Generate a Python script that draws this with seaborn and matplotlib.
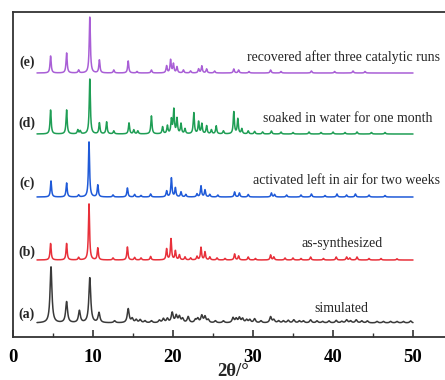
import numpy as np
import pandas as pd
import seaborn as sns
import matplotlib
matplotlib.use("Agg")
import matplotlib.pyplot as plt
from matplotlib.ticker import MultipleLocator

# Reflection lists (2theta in degrees, relative height) for each pattern
sim_peaks = [(4.75, 56), (6.7, 21), (8.3, 12), (9.6, 45), (10.75, 10), (12.7, 2),
             (14.4, 14), (14.9, 4), (15.4, 3), (15.9, 3), (16.5, 2), (17.3, 2),
             (18.3, 2.5), (18.8, 4), (19.3, 4), (19.9, 10), (20.4, 7), (20.8, 6),
             (21.2, 4), (21.9, 6), (22.8, 3), (23.1, 4), (23.6, 7), (24.0, 6),
             (24.4, 3), (25.3, 2), (26.3, 2), (27.5, 5), (27.9, 4), (28.3, 5),
             (28.7, 4), (29.2, 3), (29.6, 3), (30.2, 4), (31.0, 2), (32.2, 6),
             (32.6, 3), (33.2, 2), (33.8, 2), (34.4, 2.5), (35.1, 3), (35.8, 2),
             (36.3, 2), (37.2, 3), (38.0, 2), (38.7, 1.5), (39.5, 2), (40.4, 2.5),
             (41.1, 1.5), (41.7, 3), (42.2, 2), (42.9, 3), (43.6, 2), (44.3, 2),
             (45.5, 1.5), (46.3, 1.5), (47.2, 1.5), (48.0, 1.5), (48.8, 1.5), (49.7, 2)]

synth_peaks = [(4.7, 16.5), (6.7, 16.5), (8.2, 2.5), (9.5, 56), (10.6, 12), (12.5, 2),
               (14.3, 13), (15.2, 2.5), (16.0, 2), (17.2, 3.5), (19.2, 11), (19.75, 21),
               (20.3, 9), (20.8, 5), (21.5, 3), (22.2, 2), (23.0, 3.5), (23.5, 12.5),
               (24.0, 8), (24.6, 3), (25.5, 2), (26.5, 1.5), (27.7, 6), (28.2, 4),
               (29.4, 3), (30.3, 1.5), (32.2, 5), (32.6, 3), (34.0, 2), (35.0, 2),
               (36.0, 1.5), (37.2, 3), (38.8, 1.5), (40.4, 3), (41.7, 3), (42.1, 2),
               (43.0, 3), (44.5, 1.5), (46.0, 1.5), (48.0, 1.2)]

air_peaks = [(4.75, 16), (6.7, 14), (8.2, 2), (9.5, 55), (10.6, 12), (12.5, 2),
             (14.3, 9), (15.2, 2.5), (16.0, 1.5), (17.2, 3), (19.2, 6), (19.8, 19),
             (20.3, 9), (21.0, 5), (21.6, 2.5), (23.0, 3), (23.5, 11), (24.0, 7),
             (24.6, 2.5), (25.6, 2), (27.7, 5), (28.3, 4), (29.4, 2.5), (32.3, 4),
             (32.7, 2.5), (34.2, 2), (36.0, 2), (37.3, 3), (39.0, 1.5), (40.5, 3),
             (41.7, 2), (42.8, 3), (44.5, 2), (46.5, 1.5)]

water_peaks = [(4.7, 24), (6.7, 24), (8.1, 4), (8.4, 3), (9.6, 55), (10.8, 11),
               (11.7, 12), (12.6, 3), (14.5, 11), (15.1, 4), (15.6, 3), (17.3, 18),
               (18.7, 7), (19.3, 8), (19.8, 14), (20.1, 24), (20.5, 15), (21.0, 10),
               (21.5, 5), (22.6, 21), (23.2, 12), (23.6, 10), (24.2, 8), (24.8, 4),
               (25.4, 8), (26.3, 3), (27.6, 22), (28.1, 15), (28.6, 5), (29.4, 3),
               (30.2, 2.5), (31.2, 2), (32.3, 3), (33.5, 2), (35.0, 1.5), (37.0, 2),
               (38.5, 1.5), (40.0, 2), (41.5, 1.5), (43.0, 2), (44.8, 1.5), (46.5, 1.5)]

recycled_peaks = [(4.7, 17), (6.7, 20), (8.2, 3), (9.6, 56), (10.8, 13), (12.6, 3),
                  (14.4, 12), (15.5, 1.5), (17.3, 3), (19.2, 7), (19.7, 13), (20.05, 9),
                  (20.5, 6), (21.3, 3), (22.2, 2), (23.2, 4), (23.6, 7), (24.2, 4),
                  (25.2, 2), (27.6, 4), (28.2, 3), (29.5, 1.5), (32.2, 3), (33.5, 1.5),
                  (37.3, 2), (40.2, 1.5), (42.5, 2), (44.0, 1.5)]

series_keys = ["a", "b", "c", "d", "e"]
series_names = ["simulated", "as-synthesized", "activated left in air for two weeks",
                "soaked in water for one month", "recovered after three catalytic runs"]
series_peaks = [sim_peaks, synth_peaks, air_peaks, water_peaks, recycled_peaks]
offsets = [14, 77, 140, 203, 264]
peak_hwhm = [0.14, 0.085, 0.085, 0.085, 0.085]
colors = ["#3a3a3a", "#e8303a", "#1f5ad8", "#1f9e55", "#a95fd6"]

two_theta = np.linspace(3, 50, 4000)


def pattern(peaks, hwhm):
    y = np.zeros_like(two_theta)
    for pos, h in peaks:
        y += h * hwhm ** 2 / ((two_theta - pos) ** 2 + hwhm ** 2)
    return y


frames = []
for key, peaks, off, w in zip(series_keys, series_peaks, offsets, peak_hwhm):
    frames.append(pd.DataFrame({"two_theta": two_theta,
                                "intensity": pattern(peaks, w) + off,
                                "sample": key}))
data = pd.concat(frames, ignore_index=True)

sns.set_style("ticks")
plt.rcParams["font.family"] = ["Liberation Serif", "DejaVu Serif"]

fig = plt.figure(figsize=(4.45, 3.8), dpi=100)
ax = fig.add_axes([13 / 445, 43 / 380, 440 / 445, 325 / 380])

sns.lineplot(data=data, x="two_theta", y="intensity", hue="sample",
             hue_order=series_keys, palette=colors, linewidth=1.1,
             legend=False, ax=ax, estimator=None, sort=False)

ax.set_xlim(0, 55)
ax.set_ylim(0, 325)
ax.set_yticks([])
ax.set_ylabel("")
ax.xaxis.set_major_locator(MultipleLocator(10))
ax.xaxis.set_minor_locator(MultipleLocator(5))
ax.set_xticks([0, 10, 20, 30, 40, 50])
ax.tick_params(axis="x", which="major", direction="in", length=5, width=1.2,
               labelsize=13.5, pad=8.5, colors="#333333", labelcolor="black")
ax.tick_params(axis="x", which="minor", direction="in", length=3, width=1.0,
               colors="#333333")
for lbl in ax.get_xticklabels():
    lbl.set_fontweight("bold")
for side in ["left", "top", "bottom"]:
    ax.spines[side].set_linewidth(1.3)
    ax.spines[side].set_color("#333333")
ax.spines["right"].set_visible(False)

ax.set_xlabel("2θ/°", fontsize=13.5, fontweight="bold", labelpad=-2)

letter_y = [23, 85, 154, 214, 275]
for key, y in zip(series_keys, letter_y):
    ax.text(1.75, y, f"({key})", ha="center", va="center", fontsize=10,
            fontweight="bold")

name_pos = [(41.06, 29, "center"), (41.1, 94, "center"), (53.4, 157, "right"),
            (52.4, 218, "right"), (53.4, 280, "right")]
for name, (x, y, ha) in zip(series_names, name_pos):
    ax.text(x, y, name, ha=ha, va="center", fontsize=10)

fig.savefig("out.png", dpi=100)
